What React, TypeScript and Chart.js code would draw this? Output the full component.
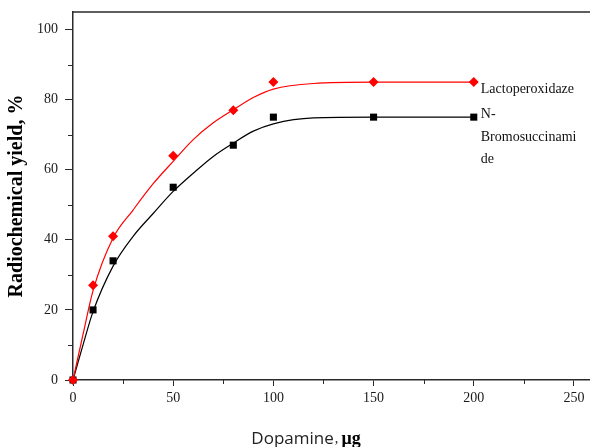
import React, { useEffect, useRef } from "react";
import { Chart, registerables } from "chart.js";

Chart.register(...registerables);

// Measured data points
const doseX = [0, 10, 20, 50, 80, 100, 150, 200];
const lactoY = [0, 27, 41, 64, 77, 85, 85, 85];
const nbsY = [0, 20, 34, 55, 67, 75, 75, 75];

// Fitted curves
const curveX = [0, 5, 10, 20, 30, 40, 50, 60, 70, 80, 90, 100, 120, 150, 200];
const lactoFit = [0, 13, 25.5, 40.5, 48.5, 56, 62.4, 68.6, 73.4, 77.1, 80.6, 83, 84.6, 85, 85];
const nbsFit = [0, 10, 19.5, 32.5, 41, 47.5, 53.8, 59, 63.8, 67.6, 71, 73.1, 74.8, 75, 75];

const xMajorTicks = [0, 50, 100, 150, 200, 250];
const xMinorTicks = [25, 75, 125, 175, 225];
const yMajorTicks = [0, 20, 40, 60, 80, 100];
const yMinorTicks = [10, 30, 50, 70, 90];

const legendLines = ["Lactoperoxidaze", "N-", "Bromosuccinami", "de"];
const yTitle = "Radiochemical yield, %";
const xTitleMain = "Dopamine";
const xTitleSep = "\uFF0C";
const xTitleUnit = "\u03BCg";

const RED = "#ff0000";
const BLACK = "#000000";
const AXIS = "#2a2a2a";

const pairs = (xs: number[], ys: number[]) => xs.map((x, i) => ({ x, y: ys[i] }));

const decorPlugin = {
  id: "decor",
  afterDraw(chart: any) {
    const { ctx, chartArea, scales } = chart;
    const xs = scales.x;
    const ys = scales.y;
    ctx.save();
    // top frame line
    ctx.strokeStyle = AXIS;
    ctx.lineWidth = 1.5;
    ctx.beginPath();
    ctx.moveTo(chartArea.left - 0.75, chartArea.top);
    ctx.lineTo(chartArea.right, chartArea.top);
    ctx.stroke();
    // minor ticks
    ctx.lineWidth = 1;
    ctx.beginPath();
    yMinorTicks.forEach((v) => {
      const py = Math.round(ys.getPixelForValue(v)) + 0.5;
      ctx.moveTo(chartArea.left - 5, py);
      ctx.lineTo(chartArea.left, py);
    });
    xMinorTicks.forEach((v) => {
      const px = Math.round(xs.getPixelForValue(v)) + 0.5;
      ctx.moveTo(px, chartArea.bottom);
      ctx.lineTo(px, chartArea.bottom + 4);
    });
    ctx.stroke();

    // side labels
    ctx.fillStyle = "#111";
    ctx.font = "14px 'Liberation Serif'";
    ctx.textAlign = "left";
    ctx.textBaseline = "middle";
    const lx = xs.getPixelForValue(200) + 7;
    ctx.fillText(legendLines[0], lx, ys.getPixelForValue(85) + 7.5);
    const ny = ys.getPixelForValue(75) - 2.5;
    for (let i = 1; i < legendLines.length; i++) {
      ctx.fillText(legendLines[i], lx, ny + (i - 1) * 22.5);
    }

    // y axis title
    ctx.save();
    ctx.translate(17, 196);
    ctx.rotate(-Math.PI / 2);
    ctx.textAlign = "center";
    ctx.fillStyle = "#000";
    ctx.font = "bold 20px 'Liberation Serif'";
    ctx.fillText(yTitle, 0, 0);
    ctx.restore();

    // x axis title with mixed fonts
    ctx.textBaseline = "alphabetic";
    ctx.textAlign = "left";
    const f1 = "17px 'Open Sans'";
    const f2 = "14px 'Liberation Serif'";
    const f3 = "bold 18px 'Liberation Serif'";
    ctx.font = f1;
    const w1 = ctx.measureText(xTitleMain).width;
    ctx.font = f2;
    const w2 = ctx.measureText(xTitleSep).width * 0.55;
    ctx.font = f3;
    const w3 = ctx.measureText(xTitleUnit).width;
    let tx = 306 - (w1 + w2 + w3) / 2;
    const base = 444;
    ctx.fillStyle = "#222";
    ctx.font = f1;
    ctx.fillText(xTitleMain, tx, base);
    tx += w1;
    ctx.font = f2;
    ctx.fillText(",", tx + 1, base - 1);
    tx += w2;
    ctx.fillStyle = "#000";
    ctx.font = f3;
    ctx.fillText(xTitleUnit, tx, base);
    ctx.restore();
  },
};

export default function App() {
  const ref = useRef<HTMLCanvasElement | null>(null);

  useEffect(() => {
    document.body.style.margin = "0";
    const canvas = ref.current;
    if (!canvas) return;
    const chart = new Chart(canvas, {
      type: "line",
      data: {
        datasets: [
          {
            label: "Lactoperoxidaze",
            data: pairs(doseX, lactoY),
            showLine: false,
            pointStyle: "rectRot",
            pointRadius: 5,
            backgroundColor: RED,
            borderColor: RED,
            borderWidth: 0,
            clip: false,
          } as any,
          {
            label: "N-Bromosuccinamide",
            data: pairs(doseX, nbsY),
            showLine: false,
            pointStyle: "rect",
            pointRadius: 5,
            backgroundColor: BLACK,
            borderColor: BLACK,
            borderWidth: 0,
            clip: false,
          } as any,
          {
            label: "fit1",
            data: pairs(curveX, lactoFit),
            borderColor: RED,
            borderWidth: 1.2,
            pointRadius: 0,
            fill: false,
            cubicInterpolationMode: "monotone",
          } as any,
          {
            label: "fit2",
            data: pairs(curveX, nbsFit),
            borderColor: BLACK,
            borderWidth: 1.2,
            pointRadius: 0,
            fill: false,
            cubicInterpolationMode: "monotone",
          } as any,
        ],
      },
      options: {
        animation: false,
        responsive: false,
        maintainAspectRatio: false,
        layout: { autoPadding: false, padding: { top: 12, right: 0, left: 0, bottom: 0 } },
        plugins: {
          legend: { display: false },
          tooltip: { enabled: false },
          title: { display: false },
        },
        scales: {
          x: {
            type: "linear",
            min: 0,
            max: 258,
            afterFit: (s: any) => {
              s.height = 67;
              s.paddingLeft = 0;
              s.paddingRight = 0;
            },
            afterBuildTicks: (s: any) => {
              s.ticks = xMajorTicks.map((v) => ({ value: v }));
            },
            border: { display: true, color: AXIS, width: 1.5 },
            grid: {
              drawOnChartArea: false,
              drawTicks: true,
              tickLength: 6,
              color: AXIS,
            },
            ticks: {
              color: "#1a1a1a",
              padding: 4,
              maxRotation: 0,
              font: { family: "'Liberation Serif'", size: 14 },
            },
          },
          y: {
            type: "linear",
            min: 0,
            max: 105,
            afterFit: (s: any) => {
              s.width = 73;
              s.paddingTop = 0;
              s.paddingBottom = 0;
            },
            afterBuildTicks: (s: any) => {
              s.ticks = yMajorTicks.map((v) => ({ value: v }));
            },
            border: { display: true, color: AXIS, width: 1.5 },
            grid: {
              drawOnChartArea: false,
              drawTicks: true,
              tickLength: 8,
              color: AXIS,
            },
            ticks: {
              color: "#1a1a1a",
              padding: 7,
              font: { family: "'Liberation Serif'", size: 14 },
            },
          },
        },
      },
      plugins: [decorPlugin],
    } as any);
    return () => chart.destroy();
  }, []);

  return (
    <div style={{ width: 590, height: 447, background: "#fff" }}>
      <canvas ref={ref} width={590} height={447} style={{ display: "block" }} />
    </div>
  );
}
